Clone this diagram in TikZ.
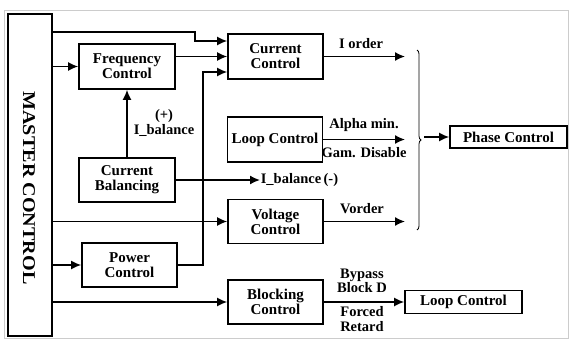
\documentclass[tikz,border=0pt]{standalone}
\usepackage{fontspec}
\setmainfont{Liberation Serif}
\usetikzlibrary{arrows.meta}
\usetikzlibrary{decorations.pathreplacing}

\tikzset{
  blockbox/.style={draw, line width=1.6pt, minimum width=95pt, minimum height=44pt, align=center, inner sep=1pt},
  sigtext/.style={font=\fontsize{14.5}{14.5}\selectfont\bfseries, align=center, inner sep=0pt},
}

\begin{document}
\begin{tikzpicture}[>={Latex[length=10pt,width=9pt]}, x=1pt, y=-1pt, line width=1.6pt, font=\fontsize{15}{15}\selectfont\bfseries]
    \useasboundingbox (0,0) rectangle (570,340);
    \draw[gray!40, line width=0.8pt] (4,10) rectangle (568,338);
    % blocks
    \node[draw, line width=1.6pt, minimum width=44pt, minimum height=322pt] (master) at (30,175) {};
    \node[rotate=-90, font=\fontsize{18}{18}\selectfont\bfseries] (mastertext) at (29,188) {\scalebox{1.12}[1]{MASTER CONTROL}};
    \node[blockbox, minimum width=96pt, minimum height=45pt] (freq) at (127,66.5) {Frequency\\Control};
    \node[blockbox, minimum width=96pt] (curbal) at (127,180) {Current\\Balancing};
    \node[blockbox] (power) at (129.5,265) {Power\\Control};
    \node[blockbox, minimum height=45pt] (curctl) at (275.5,56.5) {Current\\Control};
    \node[blockbox, minimum height=45pt] (loopctl) at (275,139.5) {Loop Control};
    \node[blockbox] (volt) at (275.5,221.5) {Voltage\\Control};
    \node[blockbox] (block) at (275.5,302) {Blocking\\Control};
    \node[blockbox, minimum width=117pt, minimum height=22pt] (phase) at (508.5,137) {Phase Control};
    \node[blockbox, minimum width=117pt, minimum height=23pt] (loopout) at (463.5,302) {Loop Control};
    % free ends
    \coordinate (iorder) at (405,56.5);
    \coordinate (alpha) at (405,139.5);
    \coordinate (vorder) at (405,221.5);
    \coordinate (bus) at (203,72);
    \coordinate (brtip) at (424,137);
    \node[sigtext, anchor=west] (ibalneg) at (260,180) {I\_balance\,(-)};
    % connectors
    \draw[->] (master.east |- 0,32) -| (195,41) -- (curctl.west |- 0,41);
    \draw[->] (master.east |- freq.west) -- (freq.west);
    \draw[->] (freq.east |- curctl.west) -- (curctl.west);
    \draw[->] (curbal) -- (freq);
    \draw[->] (power.east) -| (bus) -- (curctl.west |- bus);
    \draw[->] (curbal.east) -- (ibalneg.west);
    \draw[->] (master.east |- volt.west) -- (volt.west);
    \draw[->] (master.east |- power.west) -- (power.west);
    \draw[->] (master.east |- block.west) -- (block.west);
    \draw[->] (curctl.east) -- (iorder);
    \draw[->] (loopctl.east) -- (alpha);
    \draw[->] (volt.east) -- (vorder);
    \draw[->] (block.east) -- (loopout.west);
    \draw[line width=0.8pt, decorate, decoration={brace, amplitude=4pt}] (417,50) -- (417,230);
    \draw[->] (brtip) -- (phase.west);
    % labels
    \node[sigtext] (plus) at (164,123) {(+)\\I\_balance};
    \node[sigtext] (iorderlabel) at (361,44) {I order};
    \node[sigtext] (alphalabel) at (364,125) {Alpha min.};
    \node[sigtext] (gamlabel) at (364,153) {Gam. Disable};
    \node[sigtext] (vorderlabel) at (362,209) {Vorder};
    \node[sigtext] (bypass) at (362,281) {Bypass\\Block D};
    \node[sigtext] (forced) at (362,319) {Forced\\Retard};
\end{tikzpicture}
\end{document}
